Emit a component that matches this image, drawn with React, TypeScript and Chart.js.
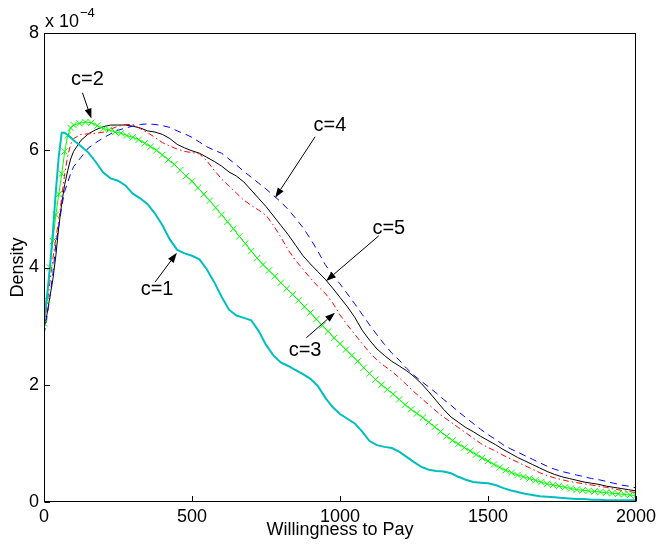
import React, { useEffect, useRef } from 'react';
import { Chart, registerables } from 'chart.js';

Chart.register(...registerables);

const FONT = "'Liberation Sans', Arial, Helvetica, sans-serif";

// Willingness-to-pay sample positions for the plain line series
const wtpGrid = [
  0, 10, 20, 30, 40, 50, 60, 70, 80, 90, 100,
  125, 150, 175, 200, 225, 250, 275, 300, 325, 350, 375, 400, 425, 450, 475, 500,
  525, 550, 575, 600, 625, 650, 675, 700, 725, 750, 775, 800, 825, 850, 875, 900, 925, 950, 975, 1000,
  1025, 1050, 1075, 1100, 1125, 1150, 1175, 1200, 1225, 1250, 1275, 1300, 1325, 1350, 1375, 1400,
  1425, 1450, 1475, 1500, 1525, 1550, 1575, 1600, 1625, 1650, 1675, 1700, 1725, 1750, 1775, 1800,
  1825, 1850, 1875, 1900, 1925, 1950, 1975, 2000,
];

// c=1 (cyan), density in units of 1e-4
const densityC1 = [
  3.1, 3.5, 4.0, 4.6, 5.3, 5.9, 6.3, 6.3, 6.26, 6.22, 6.17,
  6.07, 5.96, 5.8, 5.62, 5.52, 5.48, 5.4, 5.26, 5.18, 5.08, 4.92, 4.72, 4.48, 4.3, 4.24, 4.2,
  4.14, 3.97, 3.75, 3.5, 3.28, 3.18, 3.14, 3.1, 2.92, 2.68, 2.5, 2.38, 2.32, 2.25, 2.18, 2.1, 1.98, 1.78, 1.62, 1.5,
  1.42, 1.34, 1.2, 1.04, 0.97, 0.94, 0.92, 0.86, 0.77, 0.68, 0.6, 0.55, 0.53, 0.52, 0.49, 0.43,
  0.38, 0.34, 0.33, 0.32, 0.29, 0.24, 0.2, 0.17, 0.14, 0.12, 0.1, 0.09, 0.08, 0.07, 0.06, 0.05,
  0.05, 0.04, 0.04, 0.03, 0.03, 0.03, 0.03, 0.03,
];

// c=3 (red dash-dot)
const densityC3 = [
  3.0, 3.35, 3.75, 4.15, 4.5, 4.8, 5.2, 5.6, 5.9, 6.1, 6.2,
  6.27, 6.28, 6.29, 6.31, 6.36, 6.41, 6.44, 6.44, 6.37, 6.3, 6.22, 6.13, 6.07, 6.02, 5.98, 5.96,
  5.94, 5.82, 5.66, 5.51, 5.39, 5.27, 5.15, 5.06, 4.98, 4.89, 4.72, 4.52, 4.3, 4.12, 3.97, 3.82, 3.68, 3.56, 3.4, 3.19,
  3.02, 2.86, 2.7, 2.55, 2.42, 2.32, 2.23, 2.12, 2.0, 1.88, 1.77, 1.66, 1.55, 1.45, 1.36, 1.27,
  1.18, 1.09, 1.0, 0.93, 0.87, 0.8, 0.74, 0.68, 0.62, 0.56, 0.5, 0.45, 0.41, 0.38, 0.35, 0.33,
  0.31, 0.29, 0.27, 0.25, 0.22, 0.2, 0.18, 0.16,
];

// c=4 (blue dashed)
const densityC4 = [
  2.85, 3.15, 3.5, 3.9, 4.4, 4.7, 5.05, 5.3, 5.45, 5.6, 5.72,
  5.88, 6.04, 6.13, 6.21, 6.28, 6.34, 6.38, 6.41, 6.44, 6.45, 6.44, 6.42, 6.39, 6.33, 6.28, 6.22,
  6.14, 6.06, 6.0, 5.95, 5.85, 5.75, 5.64, 5.54, 5.44, 5.34, 5.23, 5.12, 4.99, 4.84, 4.68, 4.49, 4.28, 4.05, 3.87, 3.72,
  3.55, 3.38, 3.2, 3.02, 2.85, 2.69, 2.54, 2.42, 2.28, 2.16, 2.06, 1.96, 1.86, 1.75, 1.65, 1.54,
  1.44, 1.34, 1.24, 1.15, 1.07, 0.98, 0.91, 0.85, 0.79, 0.73, 0.67, 0.61, 0.56, 0.52, 0.49, 0.46,
  0.43, 0.4, 0.38, 0.35, 0.32, 0.29, 0.27, 0.24,
];

// c=5 (black solid)
const densityC5 = [
  2.95, 3.2, 3.5, 3.8, 4.2, 4.7, 5.1, 5.42, 5.65, 5.85, 5.98,
  6.17, 6.28, 6.35, 6.4, 6.43, 6.43, 6.43, 6.41, 6.38, 6.33, 6.31, 6.27, 6.2, 6.1, 6.04, 5.99,
  5.95, 5.88, 5.81, 5.73, 5.63, 5.56, 5.46, 5.32, 5.18, 5.04, 4.88, 4.72, 4.56, 4.38, 4.2, 4.06, 3.93, 3.8, 3.65, 3.49,
  3.33, 3.15, 2.93, 2.76, 2.61, 2.5, 2.4, 2.32, 2.24, 2.14, 2.02, 1.88, 1.73, 1.58, 1.45, 1.36,
  1.27, 1.2, 1.12, 1.05, 0.98, 0.9, 0.83, 0.76, 0.7, 0.64, 0.58, 0.52, 0.47, 0.43, 0.4, 0.37,
  0.34, 0.32, 0.3, 0.27, 0.25, 0.23, 0.21, 0.19,
];

// sample positions of the marked c=2 series
const wtpFine = [
  0, 10, 20, 30, 40, 50, 60, 70, 80, 90, 100,
  120, 140, 160, 180, 200, 220, 240, 260, 280, 300, 320, 340, 360, 380, 400,
  420, 440, 460, 480, 500, 520, 540, 560, 580, 600, 620, 640, 660, 680, 700,
  720, 740, 760, 780, 800, 820, 840, 860, 880, 900, 920, 940, 960, 980, 1000,
  1020, 1040, 1060, 1080, 1100, 1120, 1140, 1160, 1180, 1200, 1220, 1240, 1260, 1280, 1300,
  1320, 1340, 1360, 1380, 1400, 1420, 1440, 1460, 1480, 1500, 1520, 1540, 1560, 1580, 1600,
  1620, 1640, 1660, 1680, 1700, 1720, 1740, 1760, 1780, 1800, 1820, 1840, 1860, 1880, 1900,
  1920, 1940, 1960, 1980, 2000,
];

// c=2 (green with x markers)
const densityC2 = [
  3.05, 3.45, 4.0, 4.45, 4.9, 5.25, 5.6, 5.98, 6.25, 6.38, 6.43,
  6.46, 6.48, 6.47, 6.42, 6.37, 6.35, 6.31, 6.29, 6.25, 6.22, 6.18, 6.12, 6.06, 6.0, 5.92,
  5.84, 5.76, 5.66, 5.56, 5.47, 5.36, 5.25, 5.14, 5.02, 4.9, 4.78, 4.66, 4.53, 4.41, 4.28,
  4.16, 4.05, 3.95, 3.85, 3.74, 3.64, 3.54, 3.44, 3.33, 3.23, 3.12, 3.01, 2.91, 2.8, 2.7,
  2.6, 2.5, 2.4, 2.29, 2.19, 2.09, 2.0, 1.92, 1.84, 1.75, 1.66, 1.58, 1.51, 1.44, 1.36,
  1.28, 1.2, 1.12, 1.05, 0.99, 0.93, 0.87, 0.81, 0.75, 0.7, 0.64, 0.59, 0.54, 0.5, 0.46,
  0.43, 0.4, 0.37, 0.34, 0.31, 0.29, 0.27, 0.25, 0.23, 0.21, 0.2, 0.19, 0.18, 0.17, 0.16,
  0.15, 0.14, 0.13, 0.12, 0.11,
];

const xTicks = [0, 500, 1000, 1500, 2000];
const yTicks = [0, 2, 4, 6, 8];

// annotation labels (data coordinates)
const noteText = ['c=1', 'c=2', 'c=3', 'c=4', 'c=5'];
const noteX = [382, 147, 882, 966, 1165];
const noteY = [3.62, 7.2, 2.59, 6.42, 4.66];
const arrowFromX = [375, 130, 886, 916, 1131];
const arrowFromY = [3.75, 6.98, 2.8, 6.23, 4.54];
const arrowToX = [449, 160, 983, 781, 953];
const arrowToY = [4.25, 6.54, 3.23, 5.19, 3.77];

function pts(xs: number[], ys: number[]) {
  return xs.map((x, i) => ({ x, y: ys[i] }));
}

export default function App() {
  const ref = useRef<HTMLCanvasElement>(null);

  useEffect(() => {
    document.body.style.margin = '0';
    const canvas = ref.current!;

    const overlay = {
      id: 'overlay',
      afterDatasetsDraw(chart: any) {
        const { ctx, chartArea: a, scales } = chart;
        const xs = scales.x;
        const ys = scales.y;
        const L = Math.round(a.left);
        const T = Math.round(a.top);
        const R = Math.round(a.right);
        const B = Math.round(a.bottom);
        ctx.save();
        ctx.strokeStyle = '#000';
        ctx.lineWidth = 1;
        ctx.setLineDash([]);
        ctx.strokeRect(L + 0.5, T + 0.5, R - L - 1, B - T - 1);
        ctx.beginPath();
        for (const v of xTicks) {
          const px = Math.round(xs.getPixelForValue(v)) + 0.5;
          ctx.moveTo(px, B - 0.5);
          ctx.lineTo(px, B - 6);
        }
        for (const v of yTicks) {
          const py = Math.round(ys.getPixelForValue(v)) + 0.5;
          ctx.moveTo(L + 0.5, py);
          ctx.lineTo(L + 6, py);
        }
        ctx.stroke();

        // exponent label
        ctx.fillStyle = '#000';
        ctx.textAlign = 'left';
        ctx.textBaseline = 'alphabetic';
        ctx.font = `18px ${FONT}`;
        ctx.fillText('x 10', L + 1, T - 6);
        const w = ctx.measureText('x 10').width;
        ctx.font = `13px ${FONT}`;
        ctx.fillText('\u22124', L + 2 + w, T - 16);

        // annotations
        ctx.font = `20px ${FONT}`;
        ctx.textAlign = 'center';
        ctx.textBaseline = 'middle';
        for (let i = 0; i < noteText.length; i++) {
          const tx = xs.getPixelForValue(noteX[i]);
          const ty = ys.getPixelForValue(noteY[i]);
          ctx.fillText(noteText[i], tx, ty);
          const x0 = xs.getPixelForValue(arrowFromX[i]);
          const y0 = ys.getPixelForValue(arrowFromY[i]);
          const x1 = xs.getPixelForValue(arrowToX[i]);
          const y1 = ys.getPixelForValue(arrowToY[i]);
          const ang = Math.atan2(y1 - y0, x1 - x0);
          const hl = 10;
          const hw = 3.5;
          const bx = x1 - hl * Math.cos(ang);
          const by = y1 - hl * Math.sin(ang);
          ctx.beginPath();
          ctx.moveTo(x0, y0);
          ctx.lineTo(bx, by);
          ctx.stroke();
          ctx.beginPath();
          ctx.moveTo(x1, y1);
          ctx.lineTo(bx - hw * Math.sin(ang), by + hw * Math.cos(ang));
          ctx.lineTo(bx + hw * Math.sin(ang), by - hw * Math.cos(ang));
          ctx.closePath();
          ctx.fill();
        }
        ctx.restore();
      },
    };

    const chart = new Chart(canvas, {
      type: 'line',
      data: {
        datasets: [
          {
            label: 'c=1',
            data: pts(wtpGrid, densityC1),
            borderColor: '#00BFBF',
            borderWidth: 2,
            pointRadius: 0,
            fill: false,
          },
          {
            label: 'c=2',
            data: pts(wtpFine, densityC2),
            borderColor: '#00FF00',
            borderWidth: 1,
            pointStyle: 'crossRot',
            pointRadius: 4.5,
            pointBorderWidth: 1,
            pointBorderColor: '#00FF00',
            pointBackgroundColor: '#00FF00',
            fill: false,
          },
          {
            label: 'c=3',
            data: pts(wtpGrid, densityC3),
            borderColor: '#FF0000',
            borderWidth: 1,
            borderDash: [6, 3, 1.5, 3],
            pointRadius: 0,
            fill: false,
          },
          {
            label: 'c=4',
            data: pts(wtpGrid, densityC4),
            borderColor: '#0000FF',
            borderWidth: 1,
            borderDash: [7, 5],
            pointRadius: 0,
            fill: false,
          },
          {
            label: 'c=5',
            data: pts(wtpGrid, densityC5),
            borderColor: '#000000',
            borderWidth: 1,
            pointRadius: 0,
            fill: false,
          },
        ],
      },
      options: {
        animation: false,
        responsive: false,
        maintainAspectRatio: false,
        devicePixelRatio: 1,
        layout: { padding: { left: 0, top: 33, right: 20, bottom: 0 } },
        plugins: { legend: { display: false }, tooltip: { enabled: false } },
        elements: { line: { tension: 0 } },
        scales: {
          x: {
            type: 'linear',
            min: 0,
            max: 2000,
            afterBuildTicks: (s: any) => {
              s.ticks = xTicks.map((v) => ({ value: v }));
            },
            grid: { display: false, drawTicks: false },
            border: { display: false },
            ticks: {
              font: { size: 18, family: FONT },
              color: '#000',
              padding: 4,
              maxRotation: 0,
              autoSkip: false,
              callback: (v: any) => String(v),
            },
            title: {
              display: true,
              text: 'Willingness to Pay',
              font: { size: 18, family: FONT },
              color: '#000',
              padding: { top: 0, bottom: 5 },
            },
            afterFit: (s: any) => {
              s.height = 44;
            },
          },
          y: {
            type: 'linear',
            min: 0,
            max: 8,
            afterBuildTicks: (s: any) => {
              s.ticks = yTicks.map((v) => ({ value: v }));
            },
            grid: { display: false, drawTicks: false },
            border: { display: false },
            ticks: {
              font: { size: 18, family: FONT },
              color: '#000',
              padding: 5,
              callback: (v: any) => String(v),
            },
            title: {
              display: true,
              text: 'Density',
              font: { size: 18, family: FONT },
              color: '#000',
              padding: { top: 7, bottom: 0 },
            },
            afterFit: (s: any) => {
              s.width = 44;
            },
          },
        },
      },
      plugins: [overlay],
    } as any);

    return () => chart.destroy();
  }, []);

  return (
    <canvas
      ref={ref}
      width={660}
      height={546}
      style={{ display: 'block', width: 660, height: 546 }}
    />
  );
}
